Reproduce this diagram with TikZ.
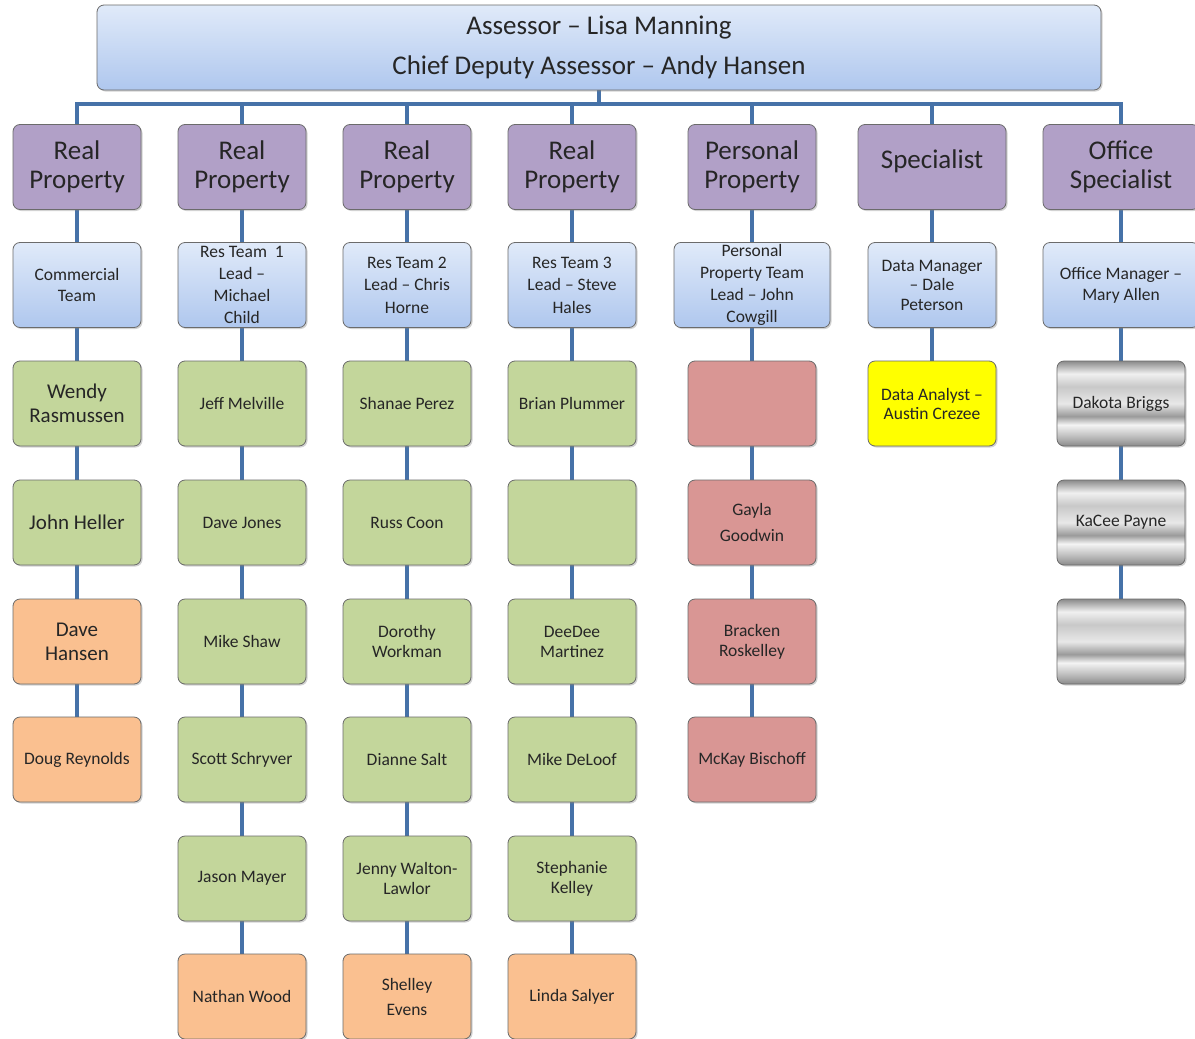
\documentclass[tikz,border=0pt]{standalone}
\usepackage{fontspec}
\setmainfont{Carlito}
\usetikzlibrary{shadows,backgrounds}
\definecolor{connc}{HTML}{4672A8}
\definecolor{boxline}{HTML}{6B6B6B}
\definecolor{txt}{HTML}{262626}
\definecolor{purp}{HTML}{B1A0C7}
\definecolor{grn}{HTML}{C3D69B}
\definecolor{org}{HTML}{FAC090}
\definecolor{rdc}{HTML}{D99694}
\definecolor{ylw}{HTML}{FFFF00}
\definecolor{blueT}{HTML}{E0EAF9}
\definecolor{blueB}{HTML}{AFC7EE}
\definecolor{sA}{HTML}{8A8A8A}
\definecolor{sB}{HTML}{B8B8B8}
\definecolor{sC}{HTML}{F4F4F4}
\definecolor{sD}{HTML}{9A9A9A}
\definecolor{sE}{HTML}{E8E8E8}
\definecolor{sF}{HTML}{C8C8C8}
\definecolor{sG}{HTML}{F0F0F0}
\pgfdeclareverticalshading{silverband}{100bp}{color(0bp)=(sA); color(25bp)=(sA); color(30bp)=(sB); color(37.5bp)=(sC); color(42.5bp)=(sD); color(50bp)=(sE); color(60bp)=(sF); color(67.5bp)=(sG); color(75bp)=(sA); color(100bp)=(sA)}
\begin{document}
\begin{tikzpicture}[x=1pt,y=-1pt,
  box/.style={draw=boxline, line width=0.8pt, rounded corners=7pt, minimum height=85pt, minimum width=128pt, inner sep=2pt, align=center, text=txt, drop shadow={opacity=0.35, shadow xshift=1.5pt, shadow yshift=-1.5pt}},
  pbox/.style={box, fill=purp, font=\fontsize{27}{29.5}\selectfont},
  tbox/.style={box, top color=blueT, bottom color=blueB, font=\fontsize{17.5}{21}\selectfont},
  gbox/.style={box, fill=grn, font=\fontsize{17.5}{20}\selectfont},
  obox/.style={box, fill=org, font=\fontsize{17.5}{20}\selectfont},
  rbox/.style={box, fill=rdc, font=\fontsize{17.5}{20}\selectfont},
  ybox/.style={box, fill=ylw, font=\fontsize{17.5}{19}\selectfont},
  sbox/.style={box, shading=silverband, font=\fontsize{17.5}{20}\selectfont},
  big/.style={font=\fontsize{21}{24}\selectfont},
  conn/.style={draw=connc, line width=3.5pt}
]
\clip (0,0) rectangle (1195,1039);

% top
\node[tbox, minimum width=1004pt, font=\fontsize{27}{40}\selectfont] (top) at (599,47.5) {Assessor – Lisa Manning\\Chief Deputy Assessor – Andy Hansen};

% row 1 purple
\node[pbox] (p1) at (77,167) {Real\\Property};
\node[pbox] (p2) at (242,167) {Real\\Property};
\node[pbox] (p3) at (407,167) {Real\\Property};
\node[pbox] (p4) at (572,167) {Real\\Property};
\node[pbox] (p5) at (752,167) {Personal\\Property};
\node[pbox, minimum width=148pt] (p6) at (932,167) {\raisebox{16pt}{Specialist}};
\node[pbox, minimum width=156pt] (p7) at (1121,167) {Office\\Specialist};

% row 2 team leads
\node[tbox] (b1) at (77,285) {Commercial\\Team};
\node[tbox, font=\fontsize{17.5}{22}\selectfont] (b2) at (242,285) {Res Team\ \ 1\\Lead –\\Michael\\Child};
\node[tbox, font=\fontsize{17.5}{22.5}\selectfont] (b3) at (407,285) {Res Team 2\\Lead – Chris\\Horne};
\node[tbox, font=\fontsize{17.5}{22.5}\selectfont] (b4) at (572,285) {Res Team 3\\Lead – Steve\\Hales};
\node[tbox, minimum width=156pt, font=\fontsize{17.5}{22}\selectfont] (b5) at (752,285) {Personal\\Property Team\\Lead – John\\Cowgill};
\node[tbox, font=\fontsize{17.5}{19.5}\selectfont] (b6) at (932,285) {Data Manager\\– Dale\\Peterson};
\node[tbox, minimum width=156pt] (b7) at (1121,285) {Office Manager –\\Mary Allen};

% column 1
\node[gbox, big] (n13) at (77,403.5) {Wendy\\Rasmussen};
\node[gbox, big] (n14) at (77,522.5) {John Heller};
\node[obox, big] (n15) at (77,641.5) {Dave\\Hansen};
\node[obox] (n16) at (77,759.5) {Doug Reynolds};

% column 2
\node[gbox] (n23) at (242,403.5) {Jeff Melville};
\node[gbox] (n24) at (242,522.5) {Dave Jones};
\node[gbox] (n25) at (242,641.5) {Mike Shaw};
\node[gbox] (n26) at (242,759.5) {Scott Schryver};
\node[gbox] (n27) at (242,878.5) {Jason Mayer};
\node[obox] (n28) at (242,996.5) {Nathan Wood};

% column 3
\node[gbox] (n33) at (407,403.5) {Shanae Perez};
\node[gbox] (n34) at (407,522.5) {Russ Coon};
\node[gbox] (n35) at (407,641.5) {Dorothy\\Workman};
\node[gbox] (n36) at (407,759.5) {Dianne Salt};
\node[gbox] (n37) at (407,878.5) {Jenny Walton-\\Lawlor};
\node[obox, font=\fontsize{17.5}{25}\selectfont] (n38) at (407,996.5) {Shelley\\Evens};

% column 4
\node[gbox] (n43) at (572,403.5) {Brian Plummer};
\node[gbox] (n44) at (572,522.5) {};
\node[gbox] (n45) at (572,641.5) {DeeDee\\Martinez};
\node[gbox] (n46) at (572,759.5) {Mike DeLoof};
\node[gbox] (n47) at (572,878.5) {Stephanie\\Kelley};
\node[obox] (n48) at (572,996.5) {Linda Salyer};

% column 5
\node[rbox] (n53) at (752,403.5) {};
\node[rbox, font=\fontsize{17.5}{26}\selectfont] (n54) at (752,522.5) {Gayla\\Goodwin};
\node[rbox] (n55) at (752,641.5) {Bracken\\Roskelley};
\node[rbox] (n56) at (752,759.5) {McKay Bischoff};

% column 6
\node[ybox] (n63) at (932,403.5) {Data Analyst –\\Austin Crezee};

% column 7
\node[sbox] (n73) at (1121,403.5) {Dakota Briggs};
\node[sbox] (n74) at (1121,522.5) {KaCee Payne};
\node[sbox] (n75) at (1121,641.5) {};

\begin{pgfonlayer}{background}
\fill[white] (0,0) rectangle (1195,1039);
\coordinate (bus) at (600,104);
\draw[conn] (top.south) -- (top.south |- bus);
\draw[conn, line cap=rect] (p1.north |- bus) -- (p7.north |- bus);
\foreach \i in {1,...,7}{\draw[conn] (p\i.north) -- (p\i.north |- bus);}
\draw[conn] (p1) -- (b1) -- (n13) -- (n14) -- (n15) -- (n16);
\draw[conn] (p2) -- (b2) -- (n23) -- (n24) -- (n25) -- (n26) -- (n27) -- (n28);
\draw[conn] (p3) -- (b3) -- (n33) -- (n34) -- (n35) -- (n36) -- (n37) -- (n38);
\draw[conn] (p4) -- (b4) -- (n43) -- (n44) -- (n45) -- (n46) -- (n47) -- (n48);
\draw[conn] (p5) -- (b5) -- (n53) -- (n54) -- (n55) -- (n56);
\draw[conn] (p6) -- (b6) -- (n63);
\draw[conn] (p7) -- (b7) -- (n73) -- (n74) -- (n75);
\end{pgfonlayer}
\end{tikzpicture}
\end{document}
